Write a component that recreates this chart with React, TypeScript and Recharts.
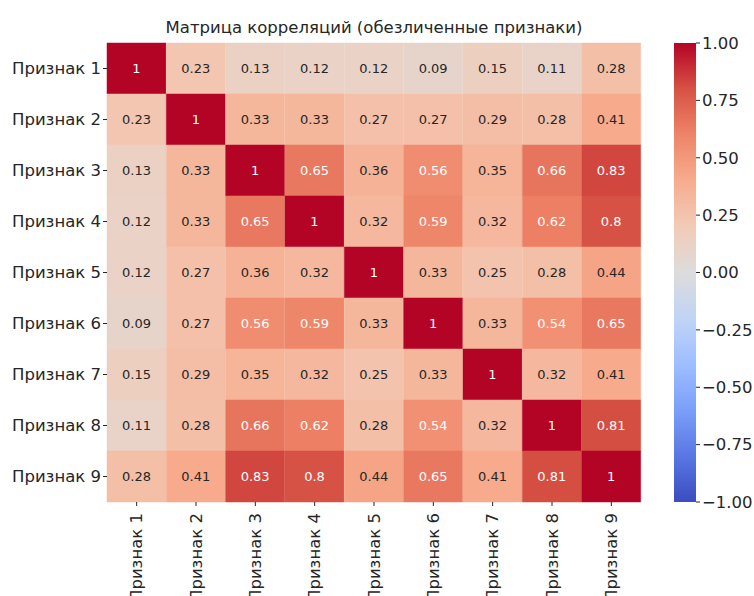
import { BarChart, Bar, XAxis, YAxis, Cell, LabelList } from 'recharts';

// Heatmap of feature correlations (seaborn-like, coolwarm, vmin -1 / vmax 1)

const features = ['Признак 1', 'Признак 2', 'Признак 3', 'Признак 4', 'Признак 5', 'Признак 6', 'Признак 7', 'Признак 8', 'Признак 9'];

const row1 = [1, 0.23, 0.13, 0.12, 0.12, 0.09, 0.15, 0.11, 0.28];
const row2 = [0.23, 1, 0.33, 0.33, 0.27, 0.27, 0.29, 0.28, 0.41];
const row3 = [0.13, 0.33, 1, 0.65, 0.36, 0.56, 0.35, 0.66, 0.83];
const row4 = [0.12, 0.33, 0.65, 1, 0.32, 0.59, 0.32, 0.62, 0.8];
const row5 = [0.12, 0.27, 0.36, 0.32, 1, 0.33, 0.25, 0.28, 0.44];
const row6 = [0.09, 0.27, 0.56, 0.59, 0.33, 1, 0.33, 0.54, 0.65];
const row7 = [0.15, 0.29, 0.35, 0.32, 0.25, 0.33, 1, 0.32, 0.41];
const row8 = [0.11, 0.28, 0.66, 0.62, 0.28, 0.54, 0.32, 1, 0.81];
const row9 = [0.28, 0.41, 0.83, 0.8, 0.44, 0.65, 0.41, 0.81, 1];
const corr = [row1, row2, row3, row4, row5, row6, row7, row8, row9];

const colorbarTicks = [-1, -0.75, -0.5, -0.25, 0, 0.25, 0.5, 0.75, 1];

const coolwarm = ['#3b4cc0', '#5977e3', '#7b9ff9', '#9ebeff', '#c0d4f5', '#dddcdc', '#f2cbb7', '#f7ac8e', '#ee8468', '#d65244', '#b40426'];

const FONT = '"DejaVu Sans", sans-serif';
const TEXT = '#262626';
const LABEL_SIZE = 16.5;

function hex(c: string) {
  return [1, 3, 5].map((i) => parseInt(c.slice(i, i + 2), 16));
}

function colorFor(v: number) {
  const t = Math.max(0, Math.min(1, (v + 1) / 2)) * 10;
  const i = Math.min(9, Math.floor(t));
  const f = t - i;
  const a = hex(coolwarm[i]);
  const b = hex(coolwarm[i + 1]);
  const m = a.map((x, k) => Math.round(x + (b[k] - x) * f));
  return `rgb(${m[0]},${m[1]},${m[2]})`;
}

// one entry per column, one stacked segment per row
const columns = features.map((name, c) => {
  const e: any = { name };
  features.forEach((_, r) => {
    e['s' + r] = 1;
    e['v' + r] = corr[r][c];
  });
  return e;
});

const colorbarData = [{ name: 'cb', range: [-1, 1] }];

function XTick(props: any) {
  const { x, y, payload } = props;
  return (
    <g transform={`translate(${x},${y})`}>
      <text transform="rotate(-90)" x={-5} y={0} dy="0.35em" textAnchor="end" fontSize={LABEL_SIZE} fontFamily={FONT} fill={TEXT}>
        {payload.value}
      </text>
    </g>
  );
}

function cellLabel(props: any) {
  const { x, y, width, height, value } = props;
  return (
    <text
      x={x + width / 2}
      y={y + height / 2}
      dy="0.35em"
      textAnchor="middle"
      fontSize={13}
      fontFamily={FONT}
      fill={value > 0.5 ? '#ffffff' : TEXT}
    >
      {String(value)}
    </text>
  );
}

export default function App() {
  return (
    <div style={{ position: 'absolute', left: 0, top: 0, width: 754, height: 596, background: '#fff' }}>
      <div
        style={{
          position: 'absolute',
          left: 107,
          top: 18,
          width: 534,
          textAlign: 'center',
          fontFamily: FONT,
          fontSize: LABEL_SIZE,
          color: TEXT,
        }}
      >
        Матрица корреляций (обезличенные признаки)
      </div>
      <div style={{ position: 'absolute', left: 0, top: 0 }}>
        <BarChart width={660} height={596} data={columns} margin={{ top: 43, right: 19, bottom: 0, left: 0 }} barCategoryGap={0}>
          <XAxis
            dataKey="name"
            type="category"
            height={94}
            axisLine={false}
            tickLine={{ stroke: TEXT }}
            tickSize={4}
            tick={<XTick />}
            interval={0}
          />
          <YAxis
            type="number"
            domain={[0, 9]}
            reversed
            ticks={[0.5, 1.5, 2.5, 3.5, 4.5, 5.5, 6.5, 7.5, 8.5]}
            tickFormatter={(v: number) => features[Math.floor(v)]}
            width={107}
            axisLine={false}
            tickLine={{ stroke: TEXT }}
            tickSize={4}
            tick={{ fontSize: LABEL_SIZE, fontFamily: FONT, fill: TEXT }}
            interval={0}
          />
          {features.map((_, r) => (
            <Bar key={r} dataKey={'s' + r} stackId="a" isAnimationActive={false}>
              {columns.map((col, c) => {
                const fill = colorFor(corr[r][c]);
                return <Cell key={c} fill={fill} stroke={fill} strokeWidth={0.5} />;
              })}
              <LabelList dataKey={'v' + r} content={cellLabel} />
            </Bar>
          ))}
        </BarChart>
      </div>
      <div style={{ position: 'absolute', left: 664, top: 0 }}>
        <BarChart width={90} height={596} data={colorbarData} margin={{ top: 43, right: 0, bottom: 94, left: 10 }} barCategoryGap={0}>
          <defs>
            <linearGradient id="cbGrad" x1="0" y1="0" x2="0" y2="1">
              {coolwarm
                .slice()
                .reverse()
                .map((c, i) => (
                  <stop key={i} offset={`${i * 10}%`} stopColor={c} />
                ))}
            </linearGradient>
          </defs>
          <XAxis dataKey="name" hide />
          <YAxis
            orientation="right"
            type="number"
            domain={[-1, 1]}
            ticks={colorbarTicks}
            tickFormatter={(v: number) => v.toFixed(2).replace('-', '\u2212')}
            width={58}
            axisLine={false}
            tickLine={{ stroke: TEXT }}
            tickSize={4}
            tick={{ fontSize: LABEL_SIZE, fontFamily: FONT, fill: TEXT }}
            interval={0}
          />
          <Bar dataKey="range" fill="url(#cbGrad)" isAnimationActive={false} />
        </BarChart>
      </div>
    </div>
  );
}
